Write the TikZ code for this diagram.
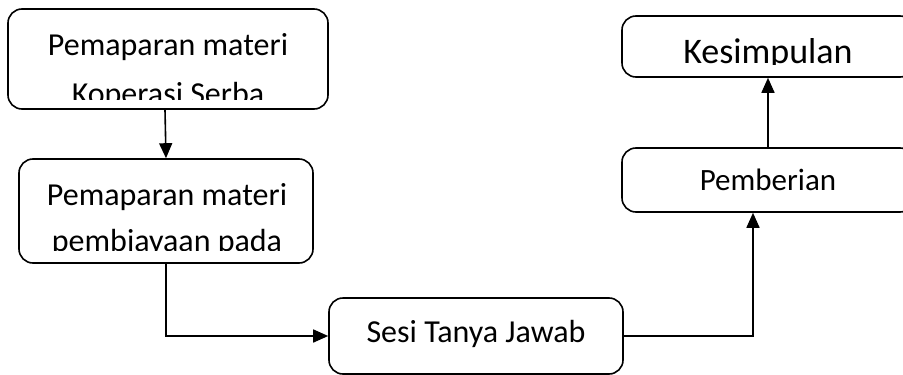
\documentclass[tikz,border=0pt]{standalone}
\usepackage{fontspec}
\setmainfont{Carlito}
\usetikzlibrary{arrows.meta}
\tikzset{
    % Rounded box for every step
    stepbox/.style={
        draw=black,
        line width=1.6pt,
        rounded corners=14pt,
        inner sep=0pt,
    },
    % One line of text inside a box
    boxtext/.style={
        font=\fontsize{32}{38}\selectfont,
        anchor=base,
        inner sep=0pt,
    },
    % Flow arrow with a solid head
    arrow/.style={
        -{Triangle[length=15pt, width=13pt]},
        line width=1.6pt,
    },
}
\begin{document}
\begin{tikzpicture}[x=1pt, y=-1pt]
    \clip (0,0) rectangle (903,375);
    \fill [white] (0,0) rectangle (903,375);

    % boxes
    \node (materi) [stepbox, minimum width=320pt, minimum height=100pt] at (168,59) {};
    \node (biaya) [stepbox, minimum width=294pt, minimum height=104pt] at (166,211) {};
    \node (sesi) [stepbox, minimum width=294pt, minimum height=76pt] at (476,336) {};
    \node (pemberian) [stepbox, minimum width=292pt, minimum height=64pt] at (768,180) {};
    \node (kesimpulan) [stepbox, minimum width=292pt, minimum height=61pt] at (768,46.5) {};

    % texts, cut off inside the boxes as in the original
    \begin{scope}
        \clip (materi.north west) rectangle ([yshift=10pt]materi.south east);
        \node (materiA) [boxtext] at (168,55) {Pemaparan materi};
        \node (materiB) [boxtext] at (168,104) {Koperasi Serba};
    \end{scope}
    \begin{scope}
        \clip (biaya.north west) rectangle ([yshift=13pt]biaya.south east);
        \node (biayaA) [boxtext] at (167,205) {Pemaparan materi};
        \node (biayaB) [boxtext] at (167,251) {pembiayaan pada};
    \end{scope}
    \node (sesiA) [boxtext] at (476,342) {Sesi Tanya Jawab};
    \node (pemberianA) [boxtext, font=\fontsize{31}{38}\selectfont] at (768,190) {Pemberian};
    \begin{scope}
        \clip (kesimpulan.north west) rectangle ([yshift=13pt]kesimpulan.south east);
        \node (kesimpulanA) [boxtext, font=\fontsize{36}{42}\selectfont] at (768,63) {Kesimpulan};
    \end{scope}

    % connectors
    \draw [arrow] ([xshift=-3pt]materi.south) -- (biaya.north);
    \draw [arrow] (biaya.south) |- (sesi.west);
    \draw [arrow] (sesi.east) -| ([xshift=-15pt]pemberian.south);
    \draw [arrow] (pemberian) -- (kesimpulan);
\end{tikzpicture}
\end{document}
